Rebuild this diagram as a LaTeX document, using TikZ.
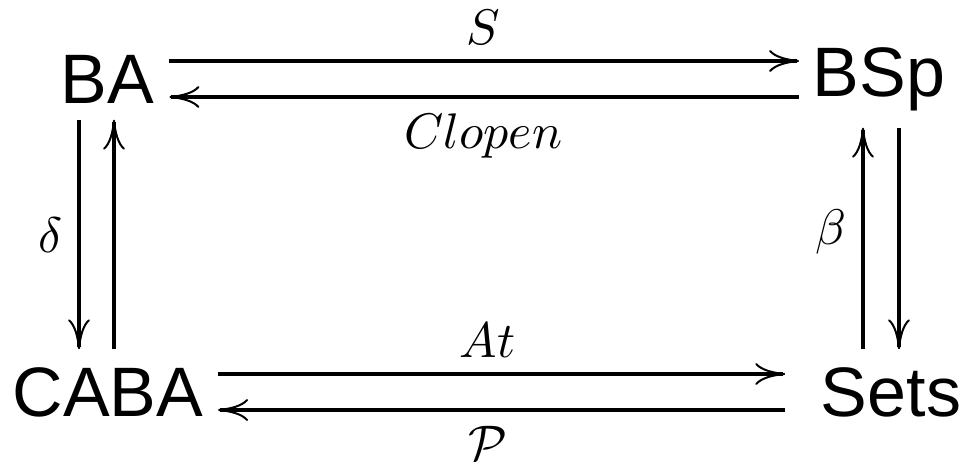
\documentclass[tikz,border=0pt]{standalone}
\usepackage{fontspec}
\newfontfamily\catfont{Liberation Sans}
\usepackage{tikz}
\usetikzlibrary{positioning, arrows.meta, calc}

\begin{document}
\begin{tikzpicture}[x=0.2pt, y=-0.2pt, line width=0.7pt,
    cat/.style={font=\catfont\fontsize{14}{14}\selectfont, anchor=base,
                inner sep=0pt, text height=10pt, text depth=0pt},
    fun/.style={-{To[length=6pt, width=4.4pt, line width=0.4pt]}},
    lbl/.style={font=\normalsize, inner sep=3pt}]
  \useasboundingbox (0,0) rectangle (962,462);

  \node[cat] (BA)   at (107,104) {BA};
  \node[cat] (BSp)  at (879,97)  {BSp};
  \node[cat] (CABA) at (108,417) {CABA};
  \node[cat] (Sets) at (891,417) {Sets};

  % top
  \draw[fun, shorten <=2.8pt, shorten >=2.4pt] ([yshift=3.6pt]BA.east) -- ([yshift=3.6pt]BA.east -| BSp.west)
    node[lbl, midway, above] {$S$};
  \draw[fun, shorten <=2.4pt, shorten >=2.8pt] ([yshift=-3.6pt]BA.east -| BSp.west) -- ([yshift=-3.6pt]BA.east)
    node[lbl, midway, below] {$Clopen$};

  % bottom
  \draw[fun, shorten <=2.6pt, shorten >=6.8pt] ([yshift=3.6pt]CABA.east) -- ([yshift=3.6pt]CABA.east -| Sets.west)
    node[lbl, pos=0.46, above] {$At$};
  \draw[fun, shorten <=6.8pt, shorten >=2.6pt] ([yshift=-3.6pt]CABA.east -| Sets.west) -- ([yshift=-3.6pt]CABA.east)
    node[lbl, pos=0.54, below] {$\mathcal{P}$};

  % left
  \draw[fun, shorten <=2.8pt, shorten >=3.2pt] ([xshift=-5.6pt]BA.south) -- ([xshift=-5.6pt]BA.south |- CABA.north)
    node[lbl, midway, left] {$\delta$};
  \draw[fun, shorten <=3.2pt, shorten >=2.8pt] ([xshift=1.4pt]BA.south |- CABA.north) -- ([xshift=1.4pt]BA.south);

  % right
  \draw[fun, shorten <=3.2pt, shorten >=5.8pt] ([xshift=-3.2pt]BSp.south |- Sets.north) -- ([xshift=-3.2pt]BSp.south)
    node[lbl, midway, left] {$\beta$};
  \draw[fun, shorten <=5.8pt, shorten >=3.2pt] ([xshift=4pt]BSp.south) -- ([xshift=4pt]BSp.south |- Sets.north);
\end{tikzpicture}
\end{document}
